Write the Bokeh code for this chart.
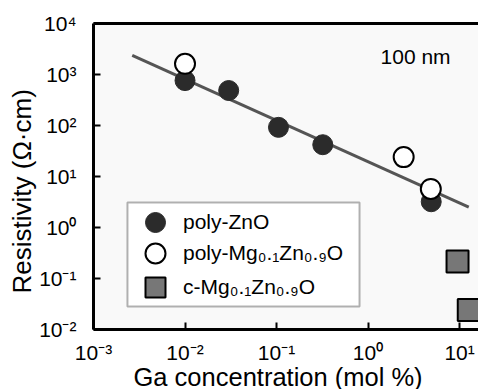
from bokeh.plotting import figure
from bokeh.models import Range1d, LogAxis, FixedTicker, Legend, LegendItem, Label, Title, BoxAnnotation
from bokeh.embed import file_html
from bokeh.resources import INLINE

# ---- data ----
zno_ga = [0.01, 0.03, 0.105, 0.32, 4.9]
zno_rho = [760, 485, 92, 42, 3.2]
mgzno_ga = [0.01, 2.45, 4.85]
mgzno_rho = [1620, 24, 5.7]
cmgzno_ga = [9.5, 12.6]
cmgzno_rho = [0.215, 0.024]
fit_ga = [0.00265, 12.6]
fit_rho = [2360, 2.5]

x_ticks = [1e-3, 1e-2, 1e-1, 1e0, 1e1]
x_tick_labels = ["10\u207b\u00b3", "10\u207b\u00b2", "10\u207b\u00b9", "10\u2070", "10\u00b9"]
y_ticks = [1e-2, 1e-1, 1e0, 1e1, 1e2, 1e3, 1e4]
y_tick_labels = ["10\u207b\u00b2", "10\u207b\u00b9", "10\u2070", "10\u00b9", "10\u00b2", "10\u00b3", "10\u2074"]
series_labels = ["poly-ZnO", "poly-Mg\u2080.\u2081Zn\u2080.\u2089O", "c-Mg\u2080.\u2081Zn\u2080.\u2089O"]
x_title = "Ga concentration (mol %)"
y_title = "Resistivity (\u03a9\u00b7cm)"
note = "100 nm"

X_MIN, X_MAX = 1e-3, 16.1
Y_MIN, Y_MAX = 1e-2, 1e4
FONT = "Liberation Sans"

p = figure(width=478, height=389, x_axis_type="log", y_axis_type="log",
           x_range=Range1d(X_MIN, X_MAX), y_range=Range1d(Y_MIN, Y_MAX),
           output_backend="svg", toolbar_location=None,
           min_border_left=93, min_border_right=0, min_border_top=23, min_border_bottom=60,
           background_fill_color="#f9f9f9", border_fill_color="white",
           outline_line_color=None)
p.grid.visible = False

for ax, ticks, labels in ((p.xaxis[0], x_ticks, x_tick_labels), (p.yaxis[0], y_ticks, y_tick_labels)):
    ax.ticker = FixedTicker(ticks=ticks, minor_ticks=[])
    ax.major_label_overrides = {t: l for t, l in zip(ticks, labels)}
    ax.axis_line_width = 3
    ax.axis_line_color = "black"
    ax.major_tick_in = 7
    ax.major_tick_out = 0
    ax.major_tick_line_width = 2
    ax.minor_tick_line_color = None
    ax.major_label_text_font = FONT
    ax.major_label_text_font_size = "21px"
    ax.major_label_text_color = "black"
p.xaxis[0].major_label_standoff = 11
p.yaxis[0].major_label_standoff = 17

top = LogAxis(ticker=FixedTicker(ticks=[], minor_ticks=[]), axis_line_width=3, axis_line_color="black",
              major_tick_in=0, major_tick_out=0, minor_tick_in=0, minor_tick_out=0,
              major_label_text_font_size="0px")
p.add_layout(top, "above")

p.line(fit_ga, fit_rho, line_color="#555555", line_width=3)
r1 = p.scatter(zno_ga, zno_rho, marker="circle", size=20, fill_color="#2b2b2b", line_color="#2b2b2b")
r2 = p.scatter(mgzno_ga, mgzno_rho, marker="circle", size=20, fill_color="white",
               line_color="black", line_width=2)
r3 = p.scatter(cmgzno_ga, cmgzno_rho, marker="square", size=22, fill_color="#777777",
               line_color="black", line_width=2)

# legend frame (position in data units of the log axes)
p.add_layout(BoxAnnotation(left=0.00235, right=0.807, bottom=0.0283, top=3.09,
                           fill_color="white", fill_alpha=1, line_color="black", line_width=2))

# one legend per row so rows can be placed at the reference's pitch
row_bottoms = [82, 51, 17]
for lab, rend, yb in zip(series_labels, [r1, r2, r3], row_bottoms):
    lg = Legend(items=[LegendItem(label=lab, renderers=[rend])],
                location=(34, yb), padding=0, spacing=0, margin=0,
                glyph_width=56, glyph_height=50, label_standoff=0, label_height=20,
                border_line_color=None, background_fill_alpha=0,
                label_text_font=FONT, label_text_font_size="21px", label_text_color="black")
    p.add_layout(lg)

p.add_layout(Label(x=1.37, y=2254, text=note, text_align="left", text_baseline="middle",
                   text_font=FONT, text_font_size="21px", text_color="black"))


def set_standoff(title, val):
    try:
        title.standoff = val
    except Exception:
        pass


xt = Title(text=x_title, align="left", offset=40, vertical_align="top", text_font=FONT,
           text_font_size="25.5px", text_font_style="normal", text_color="black")
set_standoff(xt, -8)
p.add_layout(xt, "below")
yt = Title(text=y_title, align="left", offset=36, text_font=FONT, text_font_size="26px",
           text_font_style="normal", text_color="black")
set_standoff(yt, 0)
p.add_layout(yt, "left")

open("out.html", "w").write(file_html(p, INLINE))
